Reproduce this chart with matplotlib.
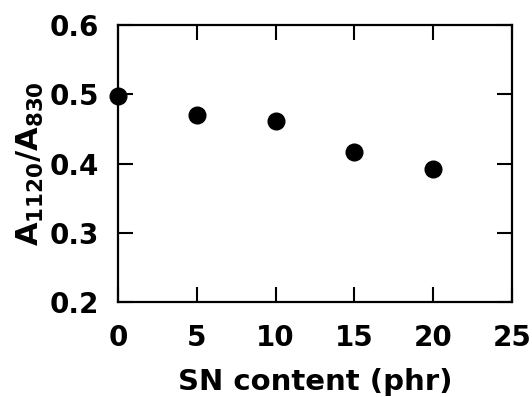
import matplotlib
matplotlib.use("Agg")
import matplotlib.pyplot as plt

# data
sn_content = [0, 5, 10, 15, 20]
ratio = [0.498, 0.470, 0.461, 0.416, 0.392]

x_ticks = [0, 5, 10, 15, 20, 25]
y_ticks = [0.2, 0.3, 0.4, 0.5, 0.6]

plt.rcParams['font.family'] = ['DejaVu Sans']
plt.rcParams['font.weight'] = 'bold'
plt.rcParams['mathtext.fontset'] = 'custom'
plt.rcParams['mathtext.rm'] = 'DejaVu Sans:bold'
plt.rcParams['mathtext.bf'] = 'DejaVu Sans:bold'

fig = plt.figure(figsize=(5.32, 3.97), dpi=100)
ax = fig.add_axes([0.222, 0.239, 0.74, 0.698])

ax.plot(sn_content, ratio, 'o', color='black', ms=12, clip_on=False, zorder=5)

ax.set_xlim(0, 25)
ax.set_ylim(0.2, 0.6)
ax.set_xticks(x_ticks)
ax.set_yticks(y_ticks)
ax.set_xticklabels([str(t) for t in x_ticks])
ax.set_yticklabels(['%.1f' % t for t in y_ticks])

ax.tick_params(direction='in', length=11, width=1.5, top=True, right=True,
               labelsize=20)
ax.tick_params(axis='x', pad=16)
ax.tick_params(axis='y', pad=14)
for s in ax.spines.values():
    s.set_linewidth(1.6)

ax.set_xlabel('SN content (phr)', fontsize=21, fontweight='bold', labelpad=11)
ax.set_ylabel(r'$\mathrm{A}_{1120}/\mathrm{A}_{830}$', fontsize=22, labelpad=2)

fig.savefig('out.png', dpi=100)
